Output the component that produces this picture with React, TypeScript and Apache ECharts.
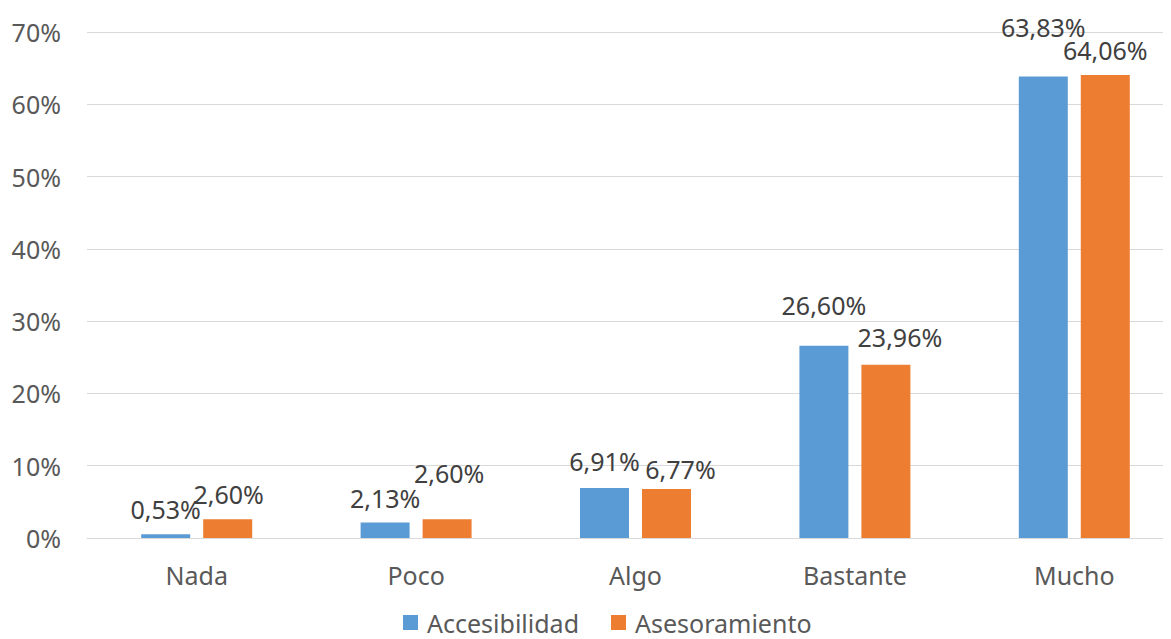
import React, { useEffect, useRef } from "react";
import * as echarts from "echarts";

const categories = ["Nada", "Poco", "Algo", "Bastante", "Mucho"];
const accesibilidad = [0.53, 2.13, 6.91, 26.6, 63.83];
const asesoramiento = [2.6, 2.6, 6.77, 23.96, 64.06];
const yTicks = [0, 10, 20, 30, 40, 50, 60, 70];

// label nudges (as in the original, manually placed labels)
const accOffsets = [[0, -7.5], [0, -7.5], [0, -9.5], [0, -23.5], [0, -32.5]];
const aseOffsets = [[1, -7.5], [2, -28.5], [14, -2.5], [14, -10.5], [0, -7.5]];

const FONT = "'Noto Sans', 'Open Sans', sans-serif";
const FS = 25;
const fmt = (v: number) => v.toFixed(2).replace(".", ",") + "%";

export default function App() {
  const ref = useRef<HTMLDivElement>(null);
  useEffect(() => {
    if (!ref.current) return;
    const chart = echarts.init(ref.current, undefined, { renderer: "svg" });
    const mk = (vals: number[], offs: number[][]) =>
      vals.map((v, i) => ({
        value: v,
        label: { offset: offs[i] },
      }));
    const labelStyle = {
      show: true,
      position: "top",
      distance: 5,
      fontSize: FS,
      color: "#404040",
      fontFamily: FONT,
      formatter: (p: any) => fmt(p.value),
    };
    chart.setOption({
      animation: false,
      textStyle: { fontFamily: FONT },
      grid: { left: 87, top: 32, width: 1097, height: 506, containLabel: false },
      legend: {
        top: 605,
        left: 398,
        itemWidth: 15,
        itemHeight: 15,
        itemGap: 32,
        icon: "rect",
        textStyle: { fontSize: FS, color: "#595959", fontFamily: FONT, padding: [0, 0, 0, 4] },
        data: ["Accesibilidad", "Asesoramiento"],
      },
      xAxis: {
        type: "category",
        data: categories,
        axisLine: { lineStyle: { color: "#D9D9D9" } },
        axisTick: { show: false },
        axisLabel: { fontSize: FS, color: "#595959", margin: 24, fontFamily: FONT },
      },
      yAxis: {
        type: "value",
        min: yTicks[0],
        max: yTicks[yTicks.length - 1],
        interval: 10,
        axisLine: { show: false },
        axisTick: { show: false },
        splitLine: { lineStyle: { color: "#D9D9D9", width: 1 } },
        axisLabel: {
          fontSize: FS,
          color: "#595959",
          margin: 26,
          fontFamily: FONT,
          formatter: (v: number) => v + "%",
        },
      },
      series: [
        {
          name: "Accesibilidad",
          type: "bar",
          barWidth: 49,
          barGap: "26.5%",
          itemStyle: { color: "#5B9BD5" },
          label: labelStyle,
          data: mk(accesibilidad, accOffsets),
        },
        {
          name: "Asesoramiento",
          type: "bar",
          barWidth: 49,
          barGap: "26.5%",
          itemStyle: { color: "#ED7D31" },
          label: labelStyle,
          data: mk(asesoramiento, aseOffsets),
        },
      ],
    });
    return () => chart.dispose();
  }, []);
  return (
    <div style={{ width: 1171, height: 647, margin: -8, overflow: "hidden" }}>
      <div ref={ref} style={{ width: 1200, height: 639 }} />
    </div>
  );
}
